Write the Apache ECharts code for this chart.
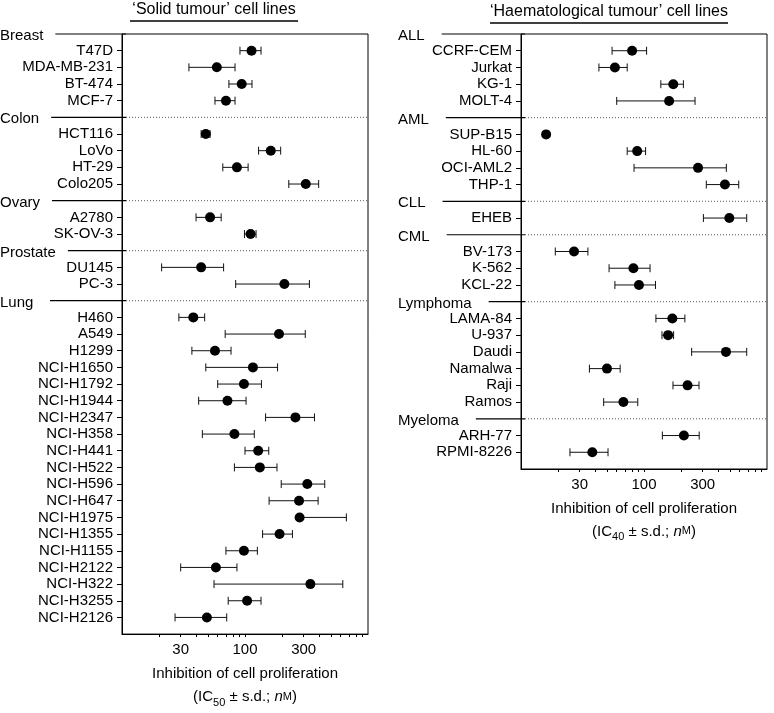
<!DOCTYPE html>
<html>
<head>
<meta charset="utf-8">
<script src="https://cdn.jsdelivr.net/npm/echarts@6/dist/echarts.min.js"></script>
<style>html,body{margin:0;padding:0;background:#fff}#chart{width:774px;height:713px}</style>
</head>
<body>
<div id="chart"></div>
<script>
// ---------- DATA ----------
const solidGroupNames = ['Breast', 'Colon', 'Ovary', 'Prostate', 'Lung'];
const solidGroupSizes = [4, 4, 2, 2, 19];
const solidCellLines = ['T47D', 'MDA-MB-231', 'BT-474', 'MCF-7',
  'HCT116', 'LoVo', 'HT-29', 'Colo205',
  'A2780', 'SK-OV-3',
  'DU145', 'PC-3',
  'H460', 'A549', 'H1299', 'NCI-H1650', 'NCI-H1792', 'NCI-H1944', 'NCI-H2347', 'NCI-H358',
  'NCI-H441', 'NCI-H522', 'NCI-H596', 'NCI-H647', 'NCI-H1975', 'NCI-H1355', 'NCI-H1155',
  'NCI-H2122', 'NCI-H322', 'NCI-H3255', 'NCI-H2126'];
const solidIC50 = [113, 59, 94, 70, 48, 162, 86, 312, 52, 111, 44, 209,
  38, 189, 57, 116, 98, 72, 257, 82, 128, 132, 321, 275, 278, 191, 98, 58, 340, 104, 49];
const solidSD = [22, 24, 20, 13, 4, 33, 20, 85, 12, 12, 23, 125,
  9, 120, 20, 68, 38, 30, 110, 37, 28, 50, 124, 118, 389, 52, 28, 28, 284, 31, 22];

const haemGroupNames = ['ALL', 'AML', 'CLL', 'CML', 'Lymphoma', 'Myeloma'];
const haemGroupSizes = [4, 4, 1, 3, 6, 2];
const haemCellLines = ['CCRF-CEM', 'Jurkat', 'KG-1', 'MOLT-4',
  'SUP-B15', 'HL-60', 'OCI-AML2', 'THP-1',
  'EHEB',
  'BV-173', 'K-562', 'KCL-22',
  'LAMA-84', 'U-937', 'Daudi', 'Namalwa', 'Raji', 'Ramos',
  'ARH-77', 'RPMI-8226'];
const haemIC40 = [80, 58, 173, 160, 16, 88, 275, 455, 494, 27, 82, 91, 170, 157, 464, 50, 226, 68, 211, 38];
const haemSD = [25, 15, 36, 100, 0, 15, 192, 134, 190, 8, 30, 33, 45, 17, 220, 14, 54, 21, 70, 13];

const xTickLabels = [30, 100, 300];
const xMinorTicks = [20, 30, 40, 50, 60, 70, 80, 90, 100, 200, 300, 400, 500, 600, 700, 800, 900];

// ---------- BUILD ----------
const FONT = 'Liberation Sans';
const measCtx = document.createElement('canvas').getContext('2d');
measCtx.font = '15px "' + FONT + '"';

function buildPanel(groupNames, groupSizes, lines, vals, sds) {
  const cats = [];
  const headers = [];
  let k = 0;
  groupNames.forEach((g, gi) => {
    cats.push(g); headers.push(g);
    for (let j = 0; j < groupSizes[gi]; j++) { cats.push(lines[k]); k++; }
  });
  cats.push(' ');
  const headerSet = new Set(headers.concat([' ']));
  const points = lines.map((n, i) => [vals[i], n, sds[i]]);
  return { cats, headers, headerSet, points };
}

const P1 = buildPanel(solidGroupNames, solidGroupSizes, solidCellLines, solidIC50, solidSD);
const P2 = buildPanel(haemGroupNames, haemGroupSizes, haemCellLines, haemIC40, haemSD);

function errRender(params, api) {
  const mean = api.value(0);
  const yi = api.value(1);
  const sd = api.value(2);
  if (!(sd > 0)) return { type: 'group', children: [] };
  const c = api.coord([mean, yi]);
  const lo = mean - sd, hi = mean + sd;
  const hiPx = api.coord([hi, yi])[0];
  const children = [];
  let loPx = c[0];
  if (lo > 0) {
    loPx = api.coord([lo, yi])[0];
    children.push({ type: 'line', shape: { x1: loPx, y1: c[1] - 4, x2: loPx, y2: c[1] + 4 }, style: { stroke: '#111', lineWidth: 1 } });
  }
  children.push({ type: 'line', shape: { x1: loPx, y1: c[1], x2: hiPx, y2: c[1] }, style: { stroke: '#111', lineWidth: 1 } });
  children.push({ type: 'line', shape: { x1: hiPx, y1: c[1] - 4, x2: hiPx, y2: c[1] + 4 }, style: { stroke: '#111', lineWidth: 1 } });
  return { type: 'group', children };
}

function headerRender(panel, textX, minOff, gap) {
  return function (params, api) {
    const yi = api.value(1);
    const y = api.coord([10, yi])[1];
    const cs = params.coordSys;
    const name = panel.headers[params.dataIndex];
    const w = measCtx.measureText(name).width;
    const x1 = Math.max(textX + minOff, textX + w + gap);
    const children = [
      { type: 'text', style: { text: name, x: textX, y: y + 2, fill: '#000', fontSize: 15, fontFamily: FONT, align: 'left', verticalAlign: 'middle' } },
      { type: 'line', shape: { x1: x1, y1: y, x2: cs.x + 4, y2: y }, style: { stroke: '#000', lineWidth: 1.2 } }
    ];
    if (params.dataIndex > 0) {
      children.push({ type: 'line', shape: { x1: cs.x + 4, y1: y, x2: cs.x + cs.width, y2: y }, style: { stroke: '#555', lineWidth: 1, lineDash: [1, 2] } });
    }
    return { type: 'group', children };
  };
}

function yAxisFor(panel, gi) {
  const show = (i, v) => !panel.headerSet.has(v);
  return {
    type: 'category', gridIndex: gi, data: panel.cats, inverse: true, boundaryGap: false,
    axisLine: { show: true, lineStyle: { color: '#000', width: 1 } },
    axisTick: { show: true, length: 5, interval: show, lineStyle: { color: '#000' } },
    axisLabel: { interval: show, fontSize: 15, fontFamily: FONT, color: '#000', margin: 9 },
    splitLine: { show: false }
  };
}

function xAxisFor(gi, sub) {
  return {
    type: 'log', logBase: 10, gridIndex: gi, min: 10, max: 1000,
    axisLine: { show: true, lineStyle: { color: '#000', width: 1 } },
    axisTick: { show: true, length: 3, customValues: xMinorTicks, lineStyle: { color: '#000' } },
    axisLabel: { customValues: xTickLabels, fontSize: 15, fontFamily: FONT, color: '#000', margin: 8 },
    splitLine: { show: false }, minorTick: { show: false },
    name: '{t|Inhibition of cell proliferation}\n{t|(IC}{sub|' + sub + '}{t| ± s.d.; }{it|n}{sc|M}{t|)}',
    nameLocation: 'middle', nameGap: 26,
    nameTextStyle: {
      color: '#000', fontFamily: FONT, fontSize: 15, lineHeight: 23,
      rich: {
        t: { fontSize: 15, fontFamily: FONT, color: '#000', lineHeight: 23 },
        sub: { fontSize: 11, fontFamily: FONT, color: '#000', lineHeight: 17, verticalAlign: 'bottom' },
        it: { fontSize: 15, fontFamily: FONT, color: '#000', fontStyle: 'italic', lineHeight: 23 },
        sc: { fontSize: 11, fontFamily: FONT, color: '#000', lineHeight: 23 }
      }
    }
  };
}

const chart = echarts.init(document.getElementById('chart'), null, { renderer: 'canvas' });
const dotStyle = { color: '#000', opacity: 1 };
const option = {
  animation: false,
  backgroundColor: '#fff',
  textStyle: { fontFamily: FONT },
  grid: [
    { left: 122, top: 34, width: 246, height: 601, show: true, borderColor: '#000', borderWidth: 1, backgroundColor: 'transparent' },
    { left: 521, top: 34, width: 246, height: 435, show: true, borderColor: '#000', borderWidth: 1, backgroundColor: 'transparent' }
  ],
  xAxis: [xAxisFor(0, '50'), xAxisFor(1, '40')],
  yAxis: [yAxisFor(P1, 0), yAxisFor(P2, 1)],
  graphic: [
    { type: 'text', x: 214, y: 10, style: { text: '‘Solid tumour’ cell lines', fontSize: 16, fontFamily: FONT, fill: '#000', align: 'center', verticalAlign: 'middle' } },
    { type: 'line', shape: { x1: 130, y1: 21, x2: 298, y2: 21 }, style: { stroke: '#000', lineWidth: 1.6 } },
    { type: 'text', x: 609, y: 12, style: { text: '‘Haematological tumour’ cell lines', fontSize: 16, fontFamily: FONT, fill: '#000', align: 'center', verticalAlign: 'middle' } },
    { type: 'line', shape: { x1: 490, y1: 23, x2: 728, y2: 23 }, style: { stroke: '#000', lineWidth: 1.6 } }
  ],
  series: [
    { type: 'custom', xAxisIndex: 0, yAxisIndex: 0, clip: false, z: 3, renderItem: headerRender(P1, 0, 50, 12), data: P1.headers.map(h => [10, h]) },
    { type: 'custom', xAxisIndex: 0, yAxisIndex: 0, z: 4, renderItem: errRender, data: P1.points },
    { type: 'scatter', xAxisIndex: 0, yAxisIndex: 0, z: 5, symbol: 'circle', symbolSize: 10, itemStyle: dotStyle, data: P1.points.map(p => [p[0], p[1]]) },
    { type: 'custom', xAxisIndex: 1, yAxisIndex: 1, clip: false, z: 3, renderItem: headerRender(P2, 398, 43, 17), data: P2.headers.map(h => [10, h]) },
    { type: 'custom', xAxisIndex: 1, yAxisIndex: 1, z: 4, renderItem: errRender, data: P2.points },
    { type: 'scatter', xAxisIndex: 1, yAxisIndex: 1, z: 5, symbol: 'circle', symbolSize: 10, itemStyle: dotStyle, data: P2.points.map(p => [p[0], p[1]]) }
  ]
};
chart.setOption(option);
</script>
</body>
</html>
